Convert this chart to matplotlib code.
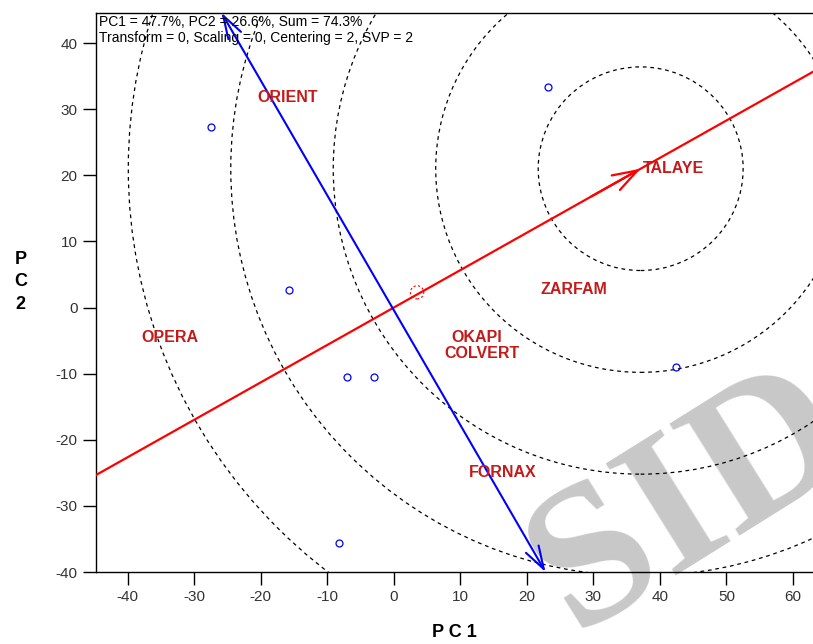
import numpy as np
import matplotlib.pyplot as plt
from matplotlib.patches import Circle

plt.rcParams['font.family'] = ['Liberation Sans', 'DejaVu Sans']
plt.rcParams['axes.unicode_minus'] = False

# variety scores (blue circles)
point_x = [-27.5, 23.2, -15.8, -7.1, -3.0, 42.4, -8.3]
point_y = [27.3, 33.3, 2.6, -10.5, -10.5, -9.0, -35.6]

# environment labels
env_names = ["ORIENT", "OPERA", "OKAPI", "COLVERT", "ZARFAM", "TALAYE", "FORNAX"]
env_x = [-16.0, -33.6, 12.4, 13.3, 27.1, 42.0, 16.3]
env_y = [31.7, -4.5, -4.5, -6.9, 2.8, 21.1, -25.0]

# average environment axis (ideal point) and its perpendicular
ideal = (37.1, 21.0)
ring_step = 15.4
n_rings = 5
perp_start = (22.8, -40.0)
perp_end = (-25.9, 44.6)
mean_env = (3.5, 2.3)

xticks = list(range(-40, 61, 10))
yticks = list(range(-40, 41, 10))
info_text = ("PC1 = 47.7%, PC2 = 26.6%, Sum = 74.3%\n"
             "Transform = 0, Scaling = 0, Centering = 2, SVP = 2")

fig = plt.figure(figsize=(8.13, 6.44), dpi=100)
ax = fig.add_axes([0.1177, 0.1118, 0.8823, 0.8685])
ax.set_facecolor('none')

# watermark behind everything
fig.text(0.85, 0.22, "SID", rotation=32, fontsize=145, family='Liberation Serif',
         fontweight='bold', color='#c8c8c8', ha='center', va='center', zorder=-5)

for k in range(1, n_rings + 1):
    ax.add_patch(Circle(ideal, ring_step * k, fill=False, color='black',
                        lw=0.9, ls=(0, (3, 3))))

ax.add_patch(Circle(mean_env, 1.0, fill=False, color='red', lw=0.8, ls=(0, (2, 2))))

ax.axline((0, 0), ideal, color='red', lw=1.6, zorder=3)
ax.annotate('', xy=ideal, xytext=(ideal[0] * 0.8, ideal[1] * 0.8),
            arrowprops=dict(arrowstyle='->,head_length=1.2,head_width=0.4',
                            color='red', lw=1.6, mutation_scale=15,
                            shrinkA=0, shrinkB=0), zorder=3)

ax.annotate('', xy=perp_end, xytext=perp_start, annotation_clip=False,
            arrowprops=dict(arrowstyle='<->,head_length=1.1,head_width=0.35',
                            color='blue', lw=1.5, mutation_scale=15,
                            shrinkA=0, shrinkB=0), zorder=3)

ax.plot(point_x, point_y, 'o', ls='none', ms=5, mfc='none', mec='blue', mew=0.9, zorder=4)

for name, x, y in zip(env_names, env_x, env_y):
    ax.text(x, y, name, color='#c41a1a', fontweight='bold', fontsize=11.5,
            ha='center', va='center', zorder=5)

ax.text(0.004, 0.996, info_text, transform=ax.transAxes, ha='left', va='top',
        fontsize=10, linespacing=1.2, zorder=6)

ax.set_xlim(-44.8, 63.0)
ax.set_ylim(-40, 44.6)
ax.set_xticks(xticks)
ax.set_yticks(yticks)
ax.tick_params(direction='out', length=9.4, width=1, labelsize=11, pad=3.6,
               labelcolor='#333333')
ax.spines['right'].set_visible(False)
for s in ['left', 'bottom', 'top']:
    ax.spines[s].set_linewidth(1.0)

ax.set_xlabel("P C 1", fontsize=13, fontweight='bold', labelpad=14)
fig.text(0.025, 1 - 282 / 644, "P\nC\n2", fontsize=13, fontweight='bold',
         ha='center', va='center', linespacing=1.45)

fig.savefig("out.png", dpi=100)
